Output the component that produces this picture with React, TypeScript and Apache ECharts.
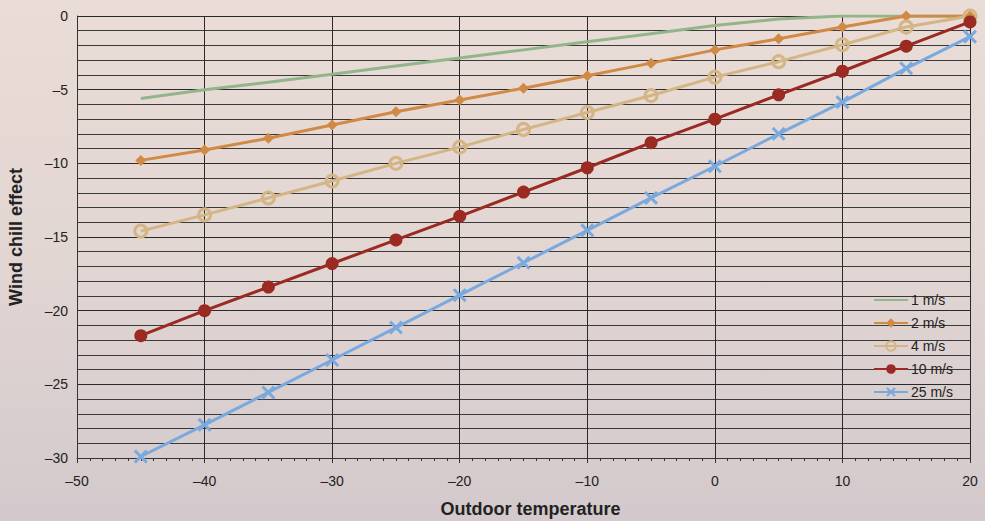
import React, { useEffect, useRef } from "react";
import * as echarts from "echarts";

const temperatures = [-45, -40, -35, -30, -25, -20, -15, -10, -5, 0, 5, 10, 15, 20];
const wind1 = [-5.6, -5.0, -4.5, -3.95, -3.4, -2.85, -2.3, -1.75, -1.2, -0.65, -0.2, 0, 0, 0];
const wind2 = [-9.8, -9.1, -8.3, -7.4, -6.5, -5.7, -4.9, -4.05, -3.2, -2.3, -1.55, -0.75, 0, 0];
const wind4 = [-14.6, -13.5, -12.35, -11.2, -10.0, -8.9, -7.7, -6.55, -5.4, -4.15, -3.1, -1.95, -0.75, 0];
const wind10 = [-21.7, -20.0, -18.4, -16.8, -15.2, -13.6, -11.95, -10.3, -8.6, -7.0, -5.35, -3.75, -2.05, -0.4];
const wind25 = [-29.9, -27.75, -25.55, -23.35, -21.15, -18.95, -16.75, -14.55, -12.35, -10.2, -8.0, -5.85, -3.55, -1.4];
const seriesNames = ["1 m/s", "2 m/s", "4 m/s", "10 m/s", "25 m/s"];
const xTitle = "Outdoor temperature";
const yTitle = "Wind chill effect";

const crossPath =
  "path://M0,1.5 L1.5,0 L5,3.5 L8.5,0 L10,1.5 L6.5,5 L10,8.5 L8.5,10 L5,6.5 L1.5,10 L0,8.5 L3.5,5 Z";

const pair = (vals: number[]) => temperatures.map((t, i) => [t, vals[i]]);
const fmt = (v: number) => (v < 0 ? "\u2013" + Math.abs(v) : String(v));

export default function App() {
  const ref = useRef<HTMLDivElement>(null);
  useEffect(() => {
    if (!ref.current) return;
    const chart = echarts.init(ref.current, null, { renderer: "svg" });
    const font = "Liberation Sans, Arial, sans-serif";
    chart.setOption({
      animation: false,
      backgroundColor: {
        type: "linear",
        x: 0,
        y: 0,
        x2: 0,
        y2: 1,
        colorStops: [
          { offset: 0, color: "#eadcd6" },
          { offset: 0.5, color: "#e2d6d3" },
          { offset: 1, color: "#d3c9cc" },
        ],
      },
      textStyle: { fontFamily: font },
      grid: { left: 77, right: 15, top: 16, bottom: 63, containLabel: false, outerBoundsMode: "none" },
      legend: {
        orient: "vertical",
        left: 868,
        top: 288,
        itemWidth: 34,
        itemHeight: 12,
        itemGap: 9,
        textStyle: { fontSize: 14, color: "#222", fontFamily: font, padding: [0, 0, 0, -2] },
        data: [
          { name: seriesNames[0], itemStyle: { opacity: 0 } },
          seriesNames[1],
          seriesNames[2],
          seriesNames[3],
          seriesNames[4],
        ],
      },
      xAxis: {
        type: "value",
        min: -50,
        max: 20,
        interval: 10,
        axisLine: { show: true, onZero: false, lineStyle: { color: "#333", width: 1 } },
        axisTick: { show: true, length: 5, inside: false, lineStyle: { color: "#333" } },
        minorTick: { show: true, splitNumber: 10, length: 3, lineStyle: { color: "#333" } },
        axisLabel: { formatter: fmt, fontSize: 14, color: "#222", margin: 16, fontFamily: font },
        splitLine: { show: true, lineStyle: { color: "#2a2a2a", width: 1 } },
        name: xTitle,
        nameLocation: "middle",
        nameGap: 42,
        nameTextStyle: { fontSize: 18, fontWeight: "bold", color: "#222", fontFamily: font, padding: [0, 0, 0, 14] },
      },
      yAxis: {
        type: "value",
        min: -30,
        max: 0,
        interval: 5,
        axisLine: { show: true, onZero: false, lineStyle: { color: "#333", width: 1 } },
        axisTick: { show: false },
        minorTick: { show: false, splitNumber: 5 },
        axisLabel: { formatter: fmt, fontSize: 14, color: "#222", margin: 9, fontFamily: font },
        splitLine: { show: true, lineStyle: { color: "#2a2a2a", width: 1 } },
        minorSplitLine: { show: true, lineStyle: { color: "#3a3a3a", width: 1 } },
        name: yTitle,
        nameLocation: "middle",
        nameGap: 52,
        nameRotate: 90,
        nameTextStyle: { fontSize: 18, fontWeight: "bold", color: "#222", fontFamily: font },
      },
      series: [
        {
          name: seriesNames[0],
          type: "line",
          data: pair(wind1),
          showSymbol: false,
          symbol: "none",
          lineStyle: { color: "#93b58a", width: 3 },
          itemStyle: { color: "#93b58a" },
        },
        {
          name: seriesNames[1],
          type: "line",
          data: pair(wind2),
          symbol: "diamond",
          symbolSize: 11,
          lineStyle: { color: "#d08a45", width: 3 },
          itemStyle: { color: "#d08a45" },
        },
        {
          name: seriesNames[2],
          type: "line",
          data: pair(wind4),
          symbol: "circle",
          symbolSize: 12,
          lineStyle: { color: "#d4b585", width: 3 },
          itemStyle: { color: "rgba(0,0,0,0)", borderColor: "#d4b585", borderWidth: 3 },
        },
        {
          name: seriesNames[3],
          type: "line",
          data: pair(wind10),
          symbol: "circle",
          symbolSize: 13,
          lineStyle: { color: "#9a2a22", width: 3 },
          itemStyle: { color: "#9a2a22" },
        },
        {
          name: seriesNames[4],
          type: "line",
          data: pair(wind25),
          symbol: crossPath,
          symbolSize: 14,
          lineStyle: { color: "#79a9de", width: 3 },
          itemStyle: { color: "#79a9de" },
        },
      ],
    });
    return () => chart.dispose();
  }, []);
  return <div ref={ref} style={{ position: "fixed", left: 0, top: 0, width: 985, height: 521 }} />;
}
